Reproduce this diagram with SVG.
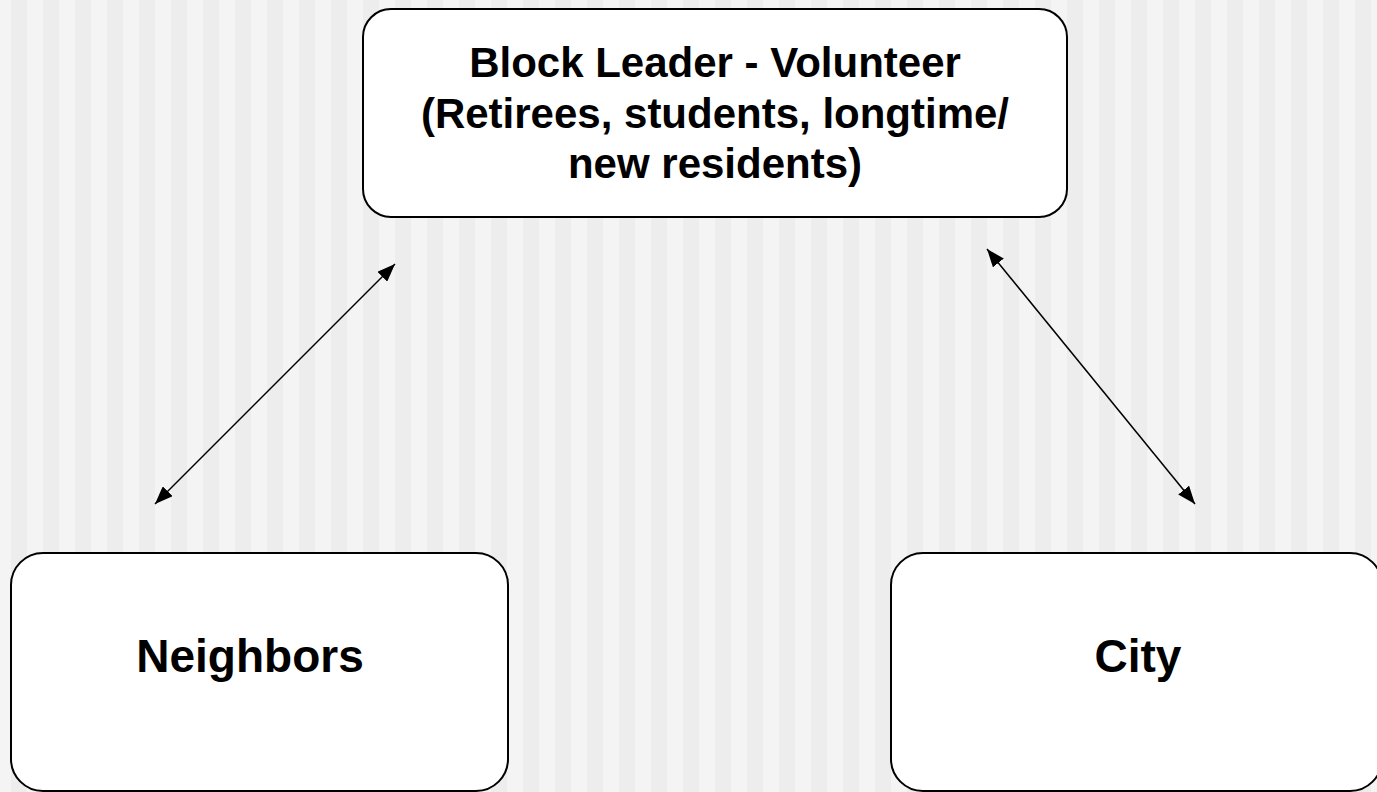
<svg xmlns="http://www.w3.org/2000/svg" width="1377" height="792" viewBox="0 0 1377 792">
<defs>
<pattern id="stripes" x="11" y="0" width="32" height="792" patternUnits="userSpaceOnUse">
<rect x="0" y="0" width="16" height="792" fill="#ededed"/>
<rect x="16" y="0" width="16" height="792" fill="#f4f4f4"/>
</pattern>
<marker id="ah" viewBox="0 0 18 14" refX="18" refY="7" markerWidth="18" markerHeight="14" markerUnits="userSpaceOnUse" orient="auto-start-reverse">
<path d="M0,0 L18,7 L0,14 z" fill="#000"/>
</marker>
<style>
.box{fill:#fff;stroke:#000;stroke-width:2}
.t{font-family:"Liberation Sans",Arial,sans-serif;font-weight:bold;fill:#000;text-anchor:middle}
.c{stroke:#000;stroke-width:1.5;fill:none;marker-start:url(#ah);marker-end:url(#ah)}
</style>
</defs>
<rect x="0" y="0" width="1377" height="792" fill="url(#stripes)"/>
<g id="connectors">
<line class="c" x1="155" y1="504" x2="395" y2="264"/>
<line class="c" x1="987" y1="249" x2="1195" y2="504"/>
</g>
<g id="block-leader">
<rect class="box" x="363" y="9" width="704" height="208" rx="28"/>
<text class="t" font-size="42" x="715"><tspan x="715" y="77">Block Leader - Volunteer</tspan><tspan x="715" y="128">(Retirees, students, longtime/</tspan><tspan x="715" y="178">new residents)</tspan></text>
</g>
<g id="neighbors">
<rect class="box" x="11" y="553" width="497" height="238" rx="32"/>
<text class="t" font-size="46" x="250" y="672">Neighbors</text>
</g>
<g id="city">
<rect class="box" x="891" y="553" width="491" height="238" rx="32"/>
<text class="t" font-size="46" x="1138" y="672">City</text>
</g>
</svg>
